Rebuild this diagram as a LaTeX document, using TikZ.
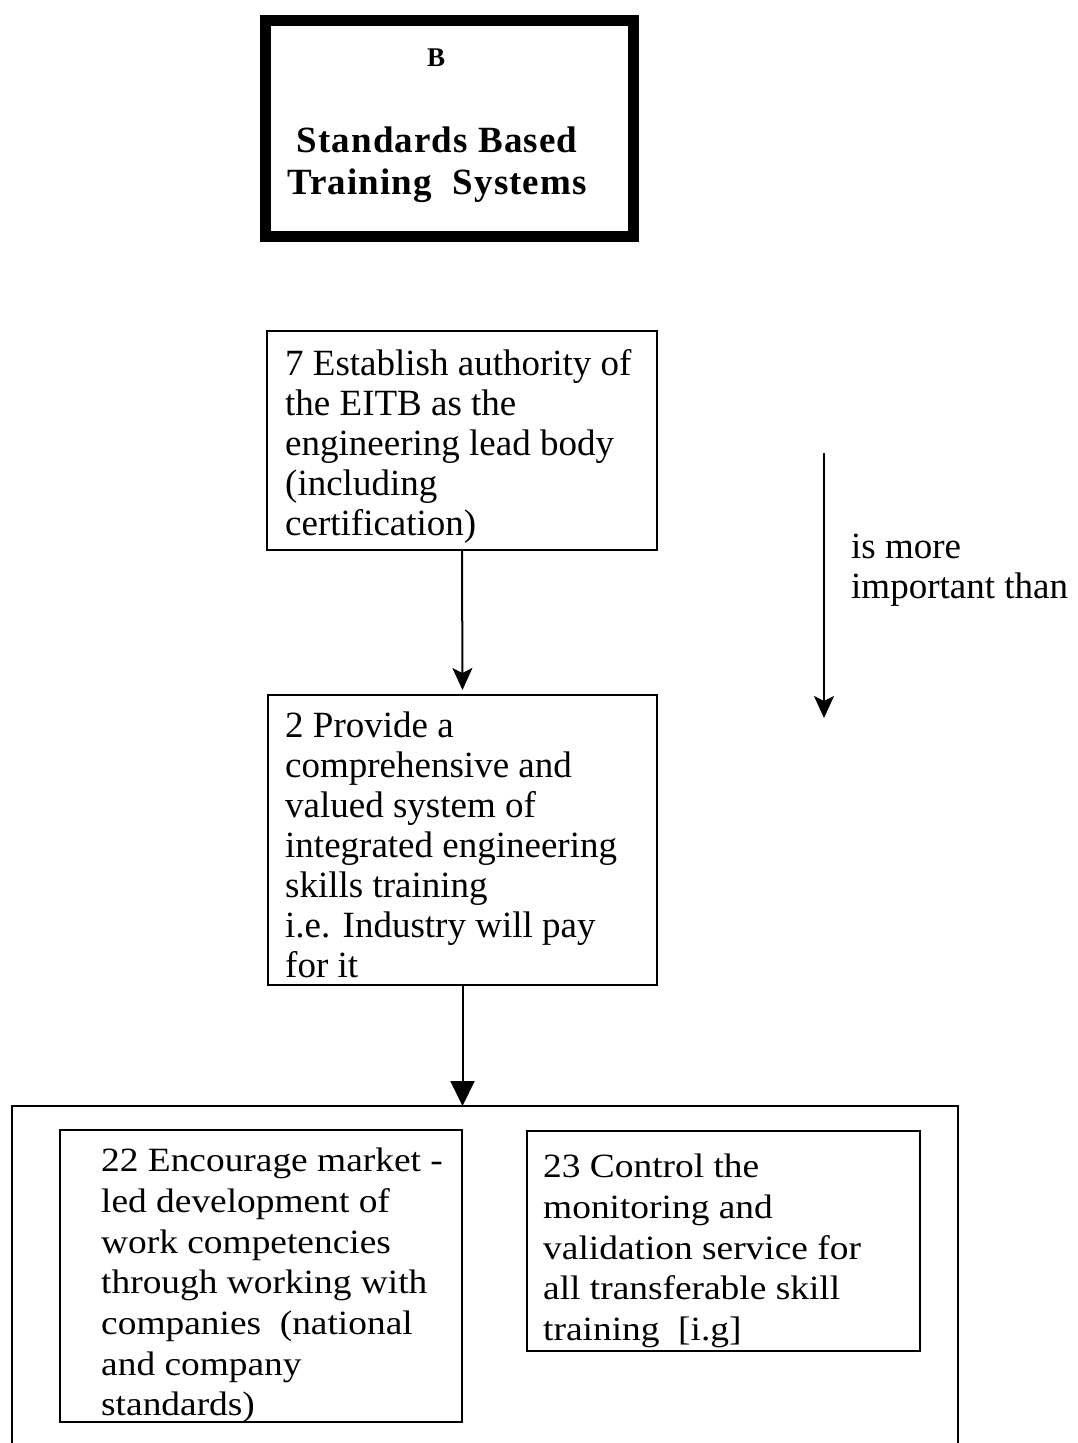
\documentclass[tikz,border=0pt]{standalone}
\usepackage{fontspec}
\setmainfont{Liberation Serif}
\newfontfamily\widefont[FakeStretch=1.1]{Liberation Serif}
\newfontfamily\titlefont[LetterSpace=3]{Liberation Serif}
\usetikzlibrary{arrows.meta}

\begin{document}
\begin{tikzpicture}[x=1pt,y=-1pt,
  box/.style={draw, line width=2.4pt, rectangle, inner sep=0pt, outer sep=0pt, anchor=north west},
  titlebox/.style={draw, line width=11pt, rectangle, inner sep=0pt, outer sep=0pt, anchor=north west},
  txt/.style={anchor=north west, inner sep=0pt, align=left, font=\fontsize{37}{40}\selectfont},
  wtxt/.style={anchor=north west, inner sep=0pt, align=left, font=\widefont\fontsize{34}{40.7}\selectfont},
  conn/.style={line width=2pt},
  smallhead/.style={conn, -{Stealth[length=22pt,width=20pt,inset=5pt]}},
  bighead/.style={conn, -{Triangle[length=25pt,width=24pt]}}
]
\useasboundingbox (0,0) rectangle (1077,1443);

% title block
\node[titlebox, minimum width=368pt, minimum height=216pt] (title) at (265,20) {};
\node[anchor=base, inner sep=0pt, font=\bfseries\fontsize{27}{30}\selectfont] (tb) at (436,66) {B};
\node[anchor=north, inner sep=0pt, align=center,
      font=\titlefont\bfseries\fontsize{37}{42}\selectfont] (tname) at (437,123)
  {\strut Standards\ Based\\Training\ \ Systems};

% goal boxes
\node[box, minimum width=390pt, minimum height=219pt] (b7) at (267,331) {};
\node[txt] (t7) at (285,347) {\strut 7 Establish authority of\\the EITB as the\\engineering lead body\\(including\\certification)};

\node[box, minimum width=389pt, minimum height=290pt] (b2) at (268,695) {};
\node[txt] (t2) at (285,709) {\strut 2 Provide a\\comprehensive and\\valued system of\\integrated engineering\\skills training\\i.e. Industry will pay\\for it};

% group enclosing goals 22 and 23 (open at the bottom)
\coordinate (gbl) at (12,1460);
\coordinate (gtl) at (12,1106);
\coordinate (gtr) at (958,1106);
\coordinate (gbr) at (958,1460);
\draw[line width=2.2pt] (gbl) -- (gtl) -- (gtr) -- (gbr);

\node[box, minimum width=402pt, minimum height=292pt] (b22) at (60,1130) {};
\node[wtxt] (t22) at (101,1143) {\strut 22 Encourage market -\\led development of\\work competencies\\through working with\\companies\ \ (national\\and company\\standards)};

\node[box, minimum width=393pt, minimum height=220pt] (b23) at (527,1131) {};
\node[wtxt] (t23) at (543,1149) {\strut 23 Control the\\monitoring and\\validation service for\\all transferable skill\\training\ \ [i.g]};

% legend
\coordinate (ls) at (824,453);
\coordinate (le) at (824,718);
\draw[smallhead] (ls) -- (le);
\node[txt] (lt) at (851,530) {\strut is more\\important than};

% precedence connectors
\draw[smallhead, shorten >=5pt] (b7.south) -- (b2.north);
\draw[bighead] (b2.south) -- (b2.south |- gtl);
\end{tikzpicture}
\end{document}
